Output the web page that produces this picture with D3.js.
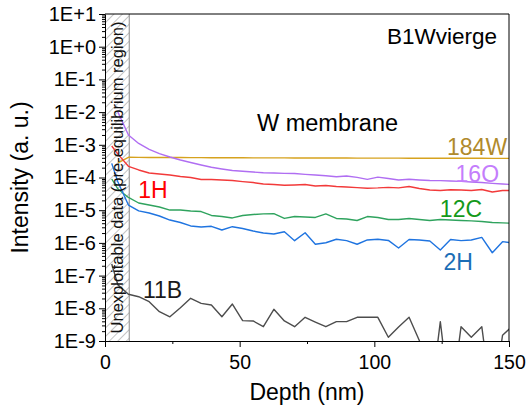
<!DOCTYPE html>
<html>
<head>
<meta charset="utf-8">
<script src="https://cdn.jsdelivr.net/npm/d3@7"></script>
<style>
  html, body { margin: 0; padding: 0; background: #fff; }
  svg { display: block; font-family: "Liberation Sans", Arial, sans-serif; }
</style>
</head>
<body>
<svg id="chart" width="527" height="408"></svg>
<script>
// Depth of each sputter cycle (nm)
const depth = [2.5, 4.8, 8.7, 12.5, 16.4, 20.2, 24.1, 28.0, 31.8, 35.7, 39.5, 43.4,
  47.3, 51.1, 55.0, 58.8, 62.7, 66.6, 70.4, 74.3, 78.1, 82.0,
  85.9, 89.7, 93.6, 97.4, 101.3, 105.2, 109.0, 112.9, 116.7, 120.6,
  124.5, 128.3, 132.2, 136.0, 139.9, 143.8, 147.6, 151.5];

// Intensities (a. u.) per species
const w184 = [null, 2.8e-4, 4.15e-4, 4.12e-4, 4.1e-4, 4.1e-4, 4.08e-4, 4.07e-4, 4.05e-4, 4.05e-4, 4.03e-4, 4.02e-4,
  4.0e-4, 4.0e-4, 3.99e-4, 3.98e-4, 3.98e-4, 3.97e-4, 3.96e-4, 3.95e-4, 3.95e-4, 3.94e-4,
  3.93e-4, 3.93e-4, 3.92e-4, 3.92e-4, 3.91e-4, 3.9e-4, 3.9e-4, 3.89e-4, 3.89e-4, 3.88e-4,
  3.88e-4, 3.87e-4, 3.87e-4, 3.86e-4, 3.86e-4, 3.85e-4, 3.85e-4, 3.85e-4];
const o16 = [null, 1.0e-2, 2.0e-3, 1.1e-3, 7.2e-4, 5.4e-4, 4.24e-4, 3.43e-4, 2.88e-4, 2.41e-4, 2.05e-4, 1.82e-4,
  1.64e-4, 1.56e-4, 1.47e-4, 1.40e-4, 1.37e-4, 1.34e-4, 1.32e-4, 1.25e-4, 1.19e-4, 1.13e-4,
  1.05e-4, 1.11e-4, 1.01e-4, 8.8e-5, 1.03e-4, 9.3e-5, 8.4e-5, 8.8e-5, 8.4e-5, 8.1e-5,
  8.0e-5, 7.8e-5, 7.6e-5, 7.3e-5, 7.0e-5, 6.6e-5, 6.3e-5, 6.1e-5];
const h1 = [9.2e-4, 5.2e-4, 2.2e-4, 1.7e-4, 1.37e-4, 1.28e-4, 1.19e-4, 1.07e-4, 1.0e-4, 8.7e-5, 8.7e-5, 8.4e-5,
  8.1e-5, 7.5e-5, 7.0e-5, 6.3e-5, 6.1e-5, 5.8e-5, 5.9e-5, 6.1e-5, 5.5e-5, 5.7e-5,
  5.3e-5, 5.1e-5, 4.9e-5, 4.7e-5, 4.8e-5, 5.0e-5, 4.8e-5, 5.3e-5, 4.6e-5, 4.15e-5,
  4.0e-5, 4.2e-5, 4.15e-5, 4.0e-5, 4.3e-5, 3.6e-5, 4.0e-5, 4.0e-5];
const c12 = [9.0e-5, 4.45e-5, 2.45e-5, 1.66e-5, 1.44e-5, 1.25e-5, 1.01e-5, 1.01e-5, 9.5e-6, 9.1e-6, 6.9e-6, 6.4e-6,
  5.8e-6, 6.9e-6, 7.4e-6, 7.7e-6, 7.8e-6, 5.6e-6, 6.4e-6, 6.2e-6, 6.0e-6, 7.7e-6,
  5.6e-6, 5.4e-6, 4.85e-6, 6.4e-6, 6.0e-6, 5.2e-6, 5.2e-6, 5.6e-6, 5.2e-6, 4.85e-6,
  5.2e-6, 5.0e-6, 4.85e-6, 4.7e-6, 4.5e-6, 4.2e-6, 4.1e-6, 4.0e-6];
const h2 = [2.7e-4, 7.3e-5, 1.44e-5, 9.5e-6, 8.2e-6, 6.65e-6, 5.0e-6, 4.2e-6, 3.3e-6, 3.06e-6, 3.22e-6, 2.48e-6,
  3.13e-6, 2.75e-6, 2.31e-6, 2.01e-6, 1.87e-6, 2.2e-6, 1.17e-6, 2.05e-6, 9.1e-7, 1.01e-6,
  1.29e-6, 1.17e-6, 9.1e-7, 1.23e-6, 1.29e-6, 1.19e-6, 7.0e-7, 1.27e-6, 1.23e-6, 1.14e-6,
  6.1e-7, 1.27e-6, 1.17e-6, 1.23e-6, 1.48e-6, 5.0e-7, 1.09e-6, 1.0e-6];
const b11 = [2.26e-7, 5.2e-8, 2.68e-8, 2.26e-8, 1.59e-8, 7.9e-9, 5.5e-9, 1.04e-8, 2.02e-8, 1.42e-8, 1.26e-8, 5.5e-9,
  1.35e-8, 4.2e-9, 4.1e-9, 2.74e-9, 9.3e-9, 4.1e-9, 2.74e-9, 5.3e-9, 3.8e-9, 2.74e-9,
  3.9e-9, 3.9e-9, 5.3e-9, 5.3e-9, 5.3e-9, 1.3e-9, 2.68e-9, 5.3e-9, 1.04e-9, 1e-11,
  3.9e-9, 1e-11, 2.74e-9, 1.3e-9, 2.74e-9, 1e-11, 1.5e-9, 3.0e-9];

const yTickLabels = ["1E+1", "1E+0", "1E-1", "1E-2", "1E-3", "1E-4", "1E-5", "1E-6", "1E-7", "1E-8", "1E-9"];
const yTickValues = [1e1, 1e0, 1e-1, 1e-2, 1e-3, 1e-4, 1e-5, 1e-6, 1e-7, 1e-8, 1e-9];
const xTickValues = [0, 50, 100, 150];
const xMinorTicks = [25, 75, 125];
const unusableDepth = 9; // end of the pre-equilibrium zone (nm)

const series = [
  { name: "184W", values: w184, line: "#d6a21e", text: "#b08a2c", lx: 149.3, ly: 4.9e-4, anchor: "end" },
  { name: "16O",  values: o16,  line: "#b06ef2", text: "#c47dfc", lx: 146.3, ly: 7.4e-5, anchor: "end" },
  { name: "1H",   values: h1,   line: "#f23a3a", text: "#ff0000", lx: 12.3,  ly: 2.36e-5, anchor: "start" },
  { name: "12C",  values: c12,  line: "#2fa35e", text: "#14991a", lx: 140.0, ly: 6.3e-6, anchor: "end" },
  { name: "2H",   values: h2,   line: "#1f74e0", text: "#1b6db6", lx: 136.6, ly: 1.48e-7, anchor: "end" },
  { name: "11B",  values: b11,  line: "#4d4d4d", text: "#1a1a1a", lx: 14.1,  ly: 2.07e-8, anchor: "start" }
];

const svg = d3.select("#chart");
const W = 527, H = 408;
const m = { left: 105, right: 509, top: 14, bottom: 341 };

const x = d3.scaleLinear().domain([0, 150]).range([m.left, m.right]);
const y = d3.scaleLog().domain([1e-9, 1e1]).range([m.bottom, m.top]);

svg.append("rect").attr("width", W).attr("height", H).attr("fill", "#fff");

const defs = svg.append("defs");
defs.append("clipPath").attr("id", "plotClip")
  .append("rect").attr("x", m.left).attr("y", m.top)
  .attr("width", m.right - m.left).attr("height", m.bottom - m.top);

const pat = defs.append("pattern").attr("id", "hatch")
  .attr("patternUnits", "userSpaceOnUse").attr("width", 6).attr("height", 6)
  .attr("patternTransform", "rotate(45)");
pat.append("rect").attr("width", 6).attr("height", 6).attr("fill", "#fff");
pat.append("line").attr("x1", 0).attr("y1", 0).attr("x2", 0).attr("y2", 6)
  .attr("stroke", "#8a8a8a").attr("stroke-width", 1);

// Hatched pre-equilibrium zone
svg.append("rect")
  .attr("x", x(0)).attr("y", m.top)
  .attr("width", x(unusableDepth) - x(0)).attr("height", m.bottom - m.top)
  .attr("fill", "url(#hatch)");
svg.append("line")
  .attr("x1", x(unusableDepth)).attr("x2", x(unusableDepth))
  .attr("y1", m.top).attr("y2", m.bottom)
  .attr("stroke", "#8a8a8a").attr("stroke-width", 1);

// Profiles
const plot = svg.append("g").attr("clip-path", "url(#plotClip)");
const lineGen = d3.line()
  .defined(d => d[1] != null)
  .x(d => x(d[0]))
  .y(d => y(d[1]));
series.forEach(s => {
  plot.append("path")
    .datum(depth.map((d, i) => [d, s.values[i]]))
    .attr("fill", "none")
    .attr("stroke", s.line)
    .attr("stroke-width", 1.4)
    .attr("stroke-linejoin", "round")
    .attr("d", lineGen);
});

// Zone label
svg.append("text")
  .attr("transform", `translate(${x(unusableDepth / 2) + 6},${(m.top + m.bottom) / 2}) rotate(-90)`)
  .attr("text-anchor", "middle")
  .attr("font-size", 16.5)
  .attr("fill", "#111")
  .text("Unexploitable data (pre-equilibrium region)");

// Frame
svg.append("path")
  .attr("d", `M${m.left},${m.top}H${m.right}V${m.bottom}`)
  .attr("fill", "none").attr("stroke", "#000").attr("stroke-width", 1);

// Y axis (log)
const minorY = [];
for (let e = -9; e < 1; e++) for (let k = 2; k <= 9; k++) minorY.push(k * Math.pow(10, e));

const yAxis = svg.append("g").attr("transform", `translate(${m.left},0)`)
  .call(d3.axisLeft(y).tickValues(yTickValues)
    .tickFormat((d, i) => yTickLabels[i]).tickSize(6).tickPadding(3).tickSizeOuter(0));
svg.append("g").attr("transform", `translate(${m.left},0)`)
  .call(d3.axisLeft(y).tickValues(minorY).tickFormat("").tickSize(3).tickSizeOuter(0))
  .call(g => g.select(".domain").remove());

// X axis
const xAxis = svg.append("g").attr("transform", `translate(0,${m.bottom})`)
  .call(d3.axisBottom(x).tickValues(xTickValues).tickFormat(d3.format("d"))
    .tickSize(6).tickPadding(8).tickSizeOuter(0));
svg.append("g").attr("transform", `translate(0,${m.bottom})`)
  .call(d3.axisBottom(x).tickValues(xMinorTicks).tickFormat("").tickSize(3).tickSizeOuter(0))
  .call(g => g.select(".domain").remove());

svg.selectAll(".tick line").attr("stroke", "#000");
svg.selectAll(".domain").attr("stroke", "#000");
yAxis.selectAll("text").attr("font-size", 20).attr("fill", "#000").attr("font-family", "Liberation Sans, Arial, sans-serif");
xAxis.selectAll("text").attr("font-size", 19.5).attr("fill", "#000").attr("font-family", "Liberation Sans, Arial, sans-serif");

// Axis titles
svg.append("text")
  .attr("x", (m.left + m.right) / 2).attr("y", 400)
  .attr("text-anchor", "middle").attr("font-size", 23)
  .text("Depth (nm)");
svg.append("text")
  .attr("transform", `translate(28,${(m.top + m.bottom) / 2}) rotate(-90)`)
  .attr("text-anchor", "middle").attr("font-size", 23)
  .text("Intensity (a. u.)");

// Annotations
svg.append("text").attr("x", 387).attr("y", 44).attr("font-size", 22.5).text("B1Wvierge");
svg.append("text").attr("x", 257).attr("y", 131).attr("font-size", 23.5).text("W membrane");

// Species labels
series.forEach(s => {
  svg.append("text")
    .attr("x", x(s.lx)).attr("y", y(s.ly))
    .attr("text-anchor", s.anchor)
    .attr("font-size", 23)
    .attr("fill", s.text)
    .text(s.name);
});
</script>
</body>
</html>
